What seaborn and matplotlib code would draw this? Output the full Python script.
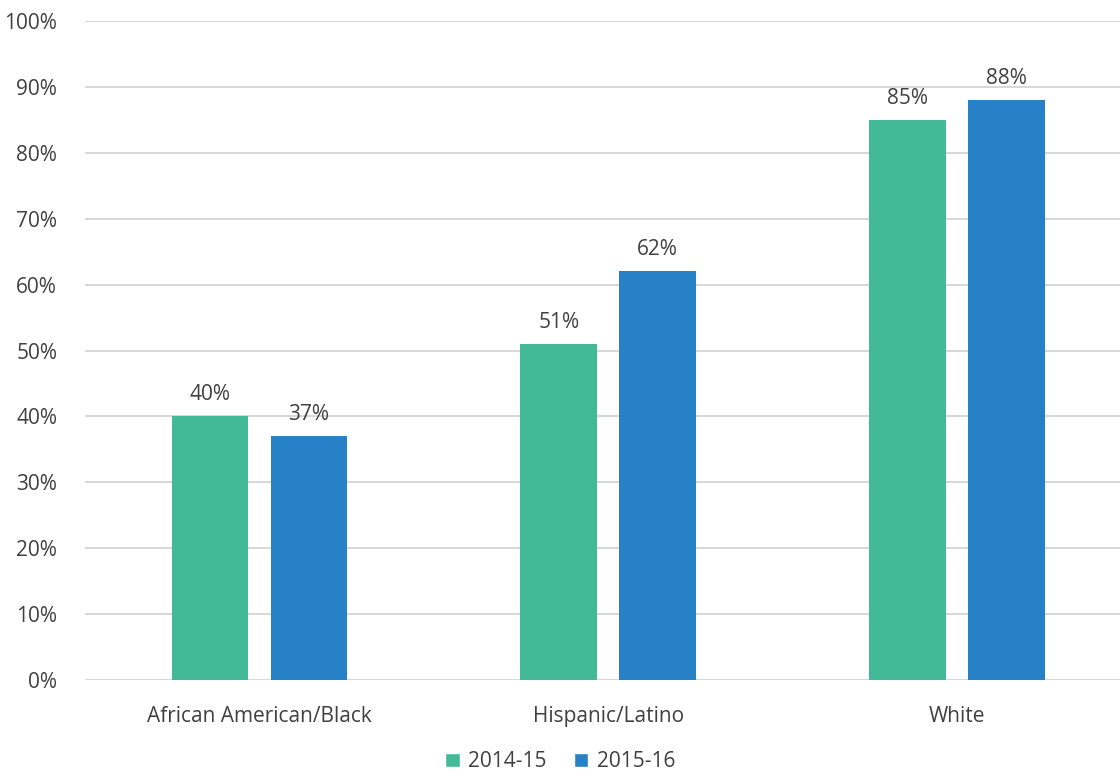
import matplotlib
matplotlib.use("Agg")
import matplotlib.pyplot as plt
import seaborn as sns
import pandas as pd
from matplotlib.patches import Patch

categories = ["African American/Black", "Hispanic/Latino", "White"]
series_names = ["2014-15", "2015-16"]
values_2014 = [40, 51, 85]
values_2015 = [37, 62, 88]
yticks = [0, 10, 20, 30, 40, 50, 60, 70, 80, 90, 100]

df = pd.DataFrame({
    "group": categories * 2,
    "year": [series_names[0]] * 3 + [series_names[1]] * 3,
    "value": values_2014 + values_2015,
})

sns.set_theme(style="white")
plt.rcParams["font.family"] = ["Open Sans", "DejaVu Sans"]
text_color = "#404040"
colors = ["#43BA97", "#2681C7"]
fs = 15

fig = plt.figure(figsize=(11.2, 7.77), dpi=100)
ax = fig.add_axes([0.0759, 0.1248, 0.9241, 0.8482])

sns.barplot(data=df, x="group", y="value", hue="year", order=categories,
            hue_order=series_names, palette=colors, width=0.567, gap=0.225,
            saturation=1, ax=ax, legend=False, zorder=3, linewidth=0)

for c in ax.containers:
    ax.bar_label(c, labels=[f"{v:.0f}%" for v in c.datavalues], padding=8,
                 fontsize=fs, color=text_color)

ax.set_ylim(0, 100)
ax.set_xlim(-0.5, 2.467)
ax.set_yticks(yticks)
ax.set_yticklabels([f"{t}%" for t in yticks])
ax.yaxis.grid(True, color="#D4D4D4", linewidth=1.3, zorder=0)
ax.set_axisbelow(True)
for s in ax.spines.values():
    s.set_visible(False)
ax.tick_params(axis="both", length=0, labelsize=fs, colors=text_color)
ax.tick_params(axis="y", pad=20)
ax.tick_params(axis="x", pad=19)
ax.set_xlabel("")
ax.set_ylabel("")

handles = [Patch(facecolor=colors[i], label=series_names[i]) for i in range(2)]
fig.legend(handles=handles, loc="lower center", bbox_to_anchor=(0.5, -0.018), ncol=2,
           frameon=False, fontsize=fs, handlelength=0.7, handleheight=0.7,
           handletextpad=0.4, columnspacing=1.3, labelcolor=text_color)

fig.savefig("out.png", dpi=100)
